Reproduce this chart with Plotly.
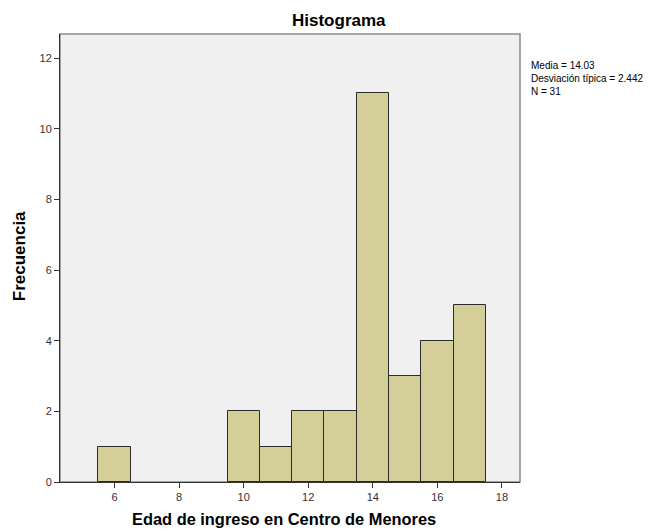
import plotly.graph_objects as go

# Age at admission (bin centres, width 1) and frequency per bin
edades = [6, 10, 11, 12, 13, 14, 15, 16, 17]
frecuencias = [1, 2, 1, 2, 2, 11, 3, 4, 5]
x_ticks = [6, 8, 10, 12, 14, 16, 18]
y_ticks = [0, 2, 4, 6, 8, 10, 12]
resumen = ["Media = 14.03", "Desviación típica = 2.442", "N = 31"]

FONT = "Liberation Sans, Arial, sans-serif"

fig = go.Figure()
fig.add_trace(go.Bar(
    x=edades,
    y=frecuencias,
    width=1,
    marker=dict(color="#D4CF98", line=dict(color="#2b2b2b", width=1)),
    hoverinfo="x+y",
))

fig.update_layout(
    width=651,
    height=529,
    margin=dict(l=60, r=131, t=34, b=47),
    paper_bgcolor="white",
    plot_bgcolor="#F0F0F0",
    showlegend=False,
    font=dict(family=FONT, size=11, color="#333333"),
    bargap=0,
)

axis_style = dict(
    ticks="outside",
    ticklen=5,
    tickcolor="#333333",
    showgrid=False,
    zeroline=False,
    showline=True,
    linecolor="#333333",
    linewidth=1,
    tickfont=dict(size=11, color="#333333"),
)
fig.update_xaxes(range=[4.31, 18.56], tickvals=x_ticks, **axis_style)
fig.update_yaxes(range=[0, 12.68], tickvals=y_ticks, **axis_style)

# Grey frame around the plotting area
fig.add_shape(type="rect", xref="paper", yref="paper", x0=0, y0=0, x1=1, y1=1,
              line=dict(color="#8a8a8a", width=1.5), layer="below")

# Titles
fig.add_annotation(text="<b>Histograma</b>", xref="paper", yref="paper",
                   x=0.6065, y=1.031, xanchor="center", yanchor="middle",
                   showarrow=False, font=dict(family=FONT, size=17, color="black"))
fig.add_annotation(text="<b>Edad de ingreso en Centro de Menores</b>", xref="paper", yref="paper",
                   x=0.488, y=-0.0826, xanchor="center", yanchor="middle",
                   showarrow=False, font=dict(family=FONT, size=16.4, color="black"))
fig.add_annotation(text="<b>Frecuencia</b>", xref="paper", yref="paper",
                   x=0, xshift=-41, y=0.504, xanchor="center", yanchor="middle",
                   textangle=-90, showarrow=False,
                   font=dict(family=FONT, size=17, color="black"))

# Summary statistics box
fig.add_annotation(text="<br>".join(resumen), xref="paper", yref="paper",
                   x=1.0, xshift=9, y=0.946, xanchor="left", yanchor="top",
                   align="left", showarrow=False,
                   font=dict(family=FONT, size=10, color="black"))

fig.write_html("out.html")
